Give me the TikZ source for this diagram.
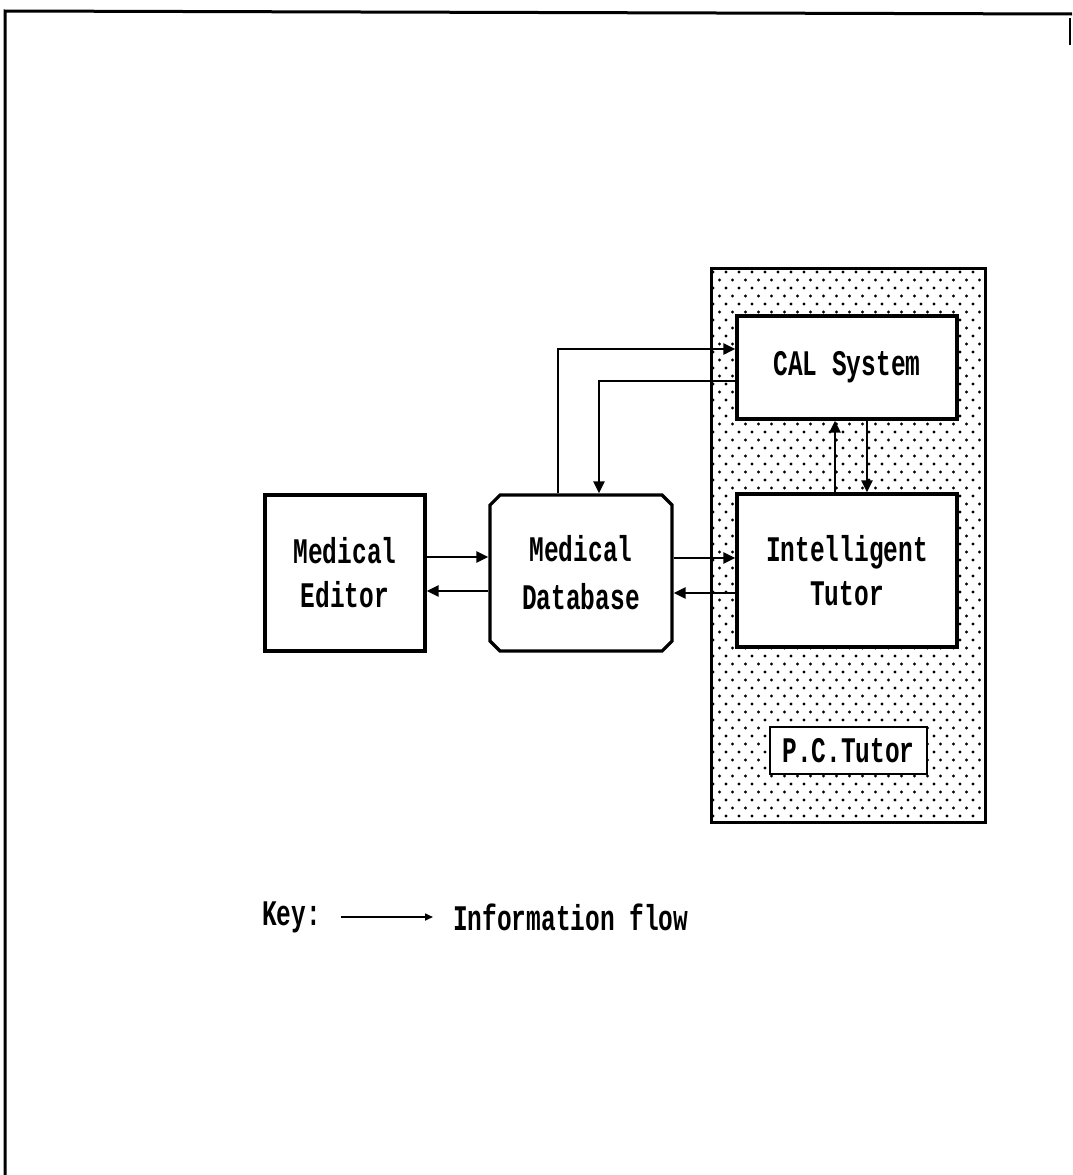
\documentclass[tikz,border=0pt]{standalone}
\usepackage{fontspec}
\usetikzlibrary{arrows.meta,shapes.misc}
\newfontfamily\termfont[FakeStretch=0.68]{Liberation Mono}
\begin{document}
\begin{tikzpicture}[x=1pt,y=-1pt,
  txt/.style={font=\termfont\bfseries\fontsize{36}{44}\selectfont, align=center, inner sep=0pt},
  block/.style={draw, line width=3.2pt, fill=white, txt},
  flow/.style={line width=2.4pt, -{Triangle[length=12pt,width=11pt]}},
  keyflow/.style={line width=1.6pt, -{Triangle[length=8pt,width=7pt]}}]
\useasboundingbox (0,0) rectangle (1072,1175);

% open page frame
\draw[line width=3pt] (5,1175) -- (5,11) -- (1072,14);
\draw[line width=1.2pt] (1070,18) -- (1070,45);

% stippled P.C. Tutor area
\node[draw, line width=3pt, minimum width=274pt, minimum height=554pt, inner sep=0pt] (pc) at (848,545) {};
\begin{scope}
  \clip (712,269) rectangle (984,821);
  \foreach \r in {0,...,70} {
    \foreach \c in {0,...,22} {
      \fill ({713+13*\c+6.5*mod(\r,2)},{272+8*\r}) circle[radius=1.6pt];
    }
  }
\end{scope}

% blocks
\node[block, minimum width=220pt, minimum height=103pt] (cal) at (847,367.5) {CAL System};
\node[block, minimum width=220pt, minimum height=153pt] (tutor) at (847,570.5) {Intelligent\\Tutor};
\node[block, minimum width=157pt, minimum height=47pt, line width=2.5pt] (pclabel) at (848.5,750.5) {P.C.Tutor};
\node[block, minimum width=160pt, minimum height=156pt] (editor) at (345,573) {Medical\\Editor};
\node[block, chamfered rectangle, chamfered rectangle xsep=5pt, chamfered rectangle ysep=5pt,
      minimum width=182pt, minimum height=156pt, font=\termfont\bfseries\fontsize{36}{48}\selectfont] (db) at (581,573) {Medical\\Database};

% information flows
\draw[flow] (editor.east |- 0,557) -- (db.west |- 0,557);
\draw[flow] (db.west |- 0,591) -- (editor.east |- 0,591);
\draw[flow] (db.east |- 0,558) -- (tutor.west |- 0,558);
\draw[flow] (tutor.west |- 0,593) -- (db.east |- 0,593);
\draw[flow] (db.north -| 558,0) |- (cal.west |- 0,349);
\draw[flow] (cal.west |- 0,381) -| (db.north -| 599,0);
\draw[flow] (tutor.north -| 835,0) -- (cal.south -| 835,0);
\draw[flow] (cal.south -| 867,0) -- (tutor.north -| 867,0);

% key
\node[txt, anchor=west] (key) at (262,917) {Key:};
\node[txt, anchor=west] (info) at (453,917) {Information flow};
\draw[keyflow] ([xshift=20pt]key.east) -- ([xshift=-20pt]info.west);
\end{tikzpicture}
\end{document}
